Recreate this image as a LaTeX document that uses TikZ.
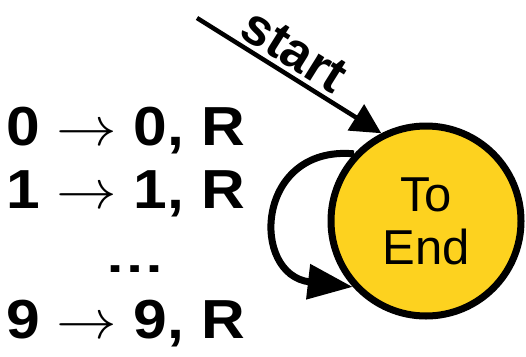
\RequirePackage{fix-cm}
\documentclass[tikz,border=0pt]{standalone}
\usepackage{fontspec}
\setmainfont{Liberation Sans}
\usetikzlibrary{arrows.meta}
\definecolor{stateyellow}{HTML}{FDD21F}
\tikzset{
  state/.style={circle, draw, line width=7pt, fill=stateyellow, minimum size=190pt,
    inner sep=0pt, align=center, font=\fontsize{49}{53}\selectfont},
  rule/.style={anchor=base west, inner sep=0pt, font=\bfseries\fontsize{55}{60}\selectfont},
  startarrow/.style={-{Triangle[length=30pt,width=30pt]}, line width=4.5pt},
  looparrow/.style={-{Triangle[length=45pt,width=34pt]}, line width=7pt}
}
\begin{document}
\begin{tikzpicture}[x=1pt,y=-1pt]
\useasboundingbox (0,0) rectangle (526,356);
\node[state] (toend) at (426,221) {To\\End};
\node[rule] (r0) at (6,145) {\scalebox{1.1}[1]{0 $\rightarrow$ 0, R}};
\node[rule] (r1) at (6,208) {\scalebox{1.1}[1]{1 $\rightarrow$ 1, R}};
\node[rule, font=\bfseries\fontsize{46}{50}\selectfont] (rdots) at (104,272) {\scalebox{1.33}[1]{…}};
\node[rule] (r9) at (6,338) {\scalebox{1.1}[1]{9 $\rightarrow$ 9, R}};
\coordinate (begin) at (197,18);
\draw[startarrow] (begin) -- (toend.117)
  node[pos=0.46, sloped, above, inner sep=4pt, font=\bfseries\fontsize{52}{52}\selectfont] (startlbl) {start};
\draw[looparrow] (toend.137) .. controls (255,145) and (250,275) .. (toend.222);
\end{tikzpicture}
\end{document}
